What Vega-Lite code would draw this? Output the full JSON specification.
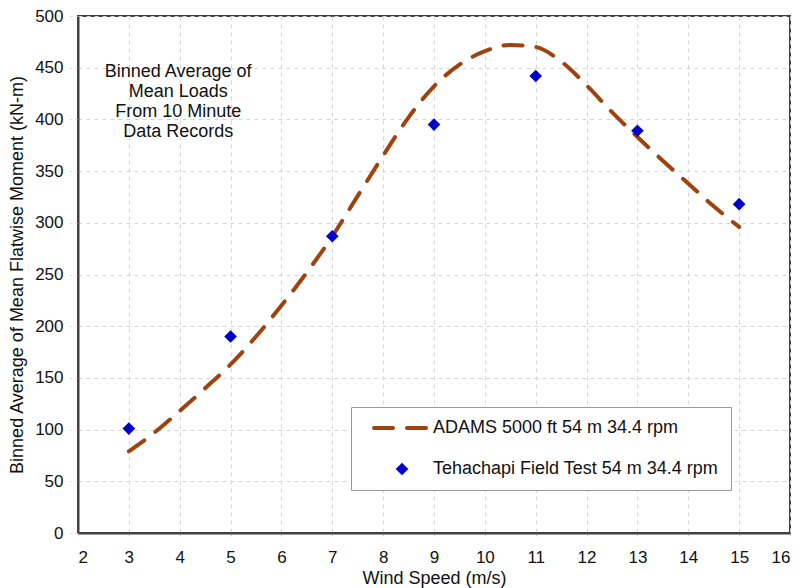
{
  "$schema": "https://vega.github.io/schema/vega-lite/v6.json",
  "width": 712,
  "height": 517,
  "autosize": {"type": "none"},
  "padding": {"left": 78, "top": 16, "right": 11, "bottom": 55},
  "background": "white",
  "config": {
    "font": "Liberation Sans",
    "view": {"stroke": "#404040", "strokeWidth": 2},
    "axis": {
      "grid": true,
      "gridColor": "#d4d4d4",
      "gridDash": [4, 4],
      "gridWidth": 1,
      "domainColor": "#404040",
      "domainWidth": 2,
      "tickColor": "#d4d4d4",
      "tickDash": [3, 3],
      "labelFont": "Liberation Sans",
      "labelFontSize": 17,
      "labelColor": "#111111",
      "titleFont": "Liberation Sans",
      "titleFontSize": 18,
      "titleFontWeight": "normal",
      "titleColor": "#111111"
    }
  },
  "datasets": {
    "curve": [
      {"speed": 3, "moment": 79, "series": "ADAMS 5000 ft 54 m 34.4 rpm"},
      {"speed": 3.5, "moment": 97, "series": "ADAMS 5000 ft 54 m 34.4 rpm"},
      {"speed": 4, "moment": 118, "series": "ADAMS 5000 ft 54 m 34.4 rpm"},
      {"speed": 4.5, "moment": 140, "series": "ADAMS 5000 ft 54 m 34.4 rpm"},
      {"speed": 5, "moment": 163, "series": "ADAMS 5000 ft 54 m 34.4 rpm"},
      {"speed": 5.5, "moment": 190, "series": "ADAMS 5000 ft 54 m 34.4 rpm"},
      {"speed": 6, "moment": 220, "series": "ADAMS 5000 ft 54 m 34.4 rpm"},
      {"speed": 6.5, "moment": 252, "series": "ADAMS 5000 ft 54 m 34.4 rpm"},
      {"speed": 7, "moment": 287, "series": "ADAMS 5000 ft 54 m 34.4 rpm"},
      {"speed": 7.5, "moment": 326, "series": "ADAMS 5000 ft 54 m 34.4 rpm"},
      {"speed": 8, "moment": 365, "series": "ADAMS 5000 ft 54 m 34.4 rpm"},
      {"speed": 8.5, "moment": 402, "series": "ADAMS 5000 ft 54 m 34.4 rpm"},
      {"speed": 9, "moment": 432, "series": "ADAMS 5000 ft 54 m 34.4 rpm"},
      {"speed": 9.5, "moment": 453, "series": "ADAMS 5000 ft 54 m 34.4 rpm"},
      {"speed": 10, "moment": 466, "series": "ADAMS 5000 ft 54 m 34.4 rpm"},
      {"speed": 10.5, "moment": 472, "series": "ADAMS 5000 ft 54 m 34.4 rpm"},
      {"speed": 11, "moment": 470, "series": "ADAMS 5000 ft 54 m 34.4 rpm"},
      {"speed": 11.5, "moment": 456, "series": "ADAMS 5000 ft 54 m 34.4 rpm"},
      {"speed": 12, "moment": 433, "series": "ADAMS 5000 ft 54 m 34.4 rpm"},
      {"speed": 12.5, "moment": 407, "series": "ADAMS 5000 ft 54 m 34.4 rpm"},
      {"speed": 13, "moment": 383, "series": "ADAMS 5000 ft 54 m 34.4 rpm"},
      {"speed": 13.5, "moment": 360, "series": "ADAMS 5000 ft 54 m 34.4 rpm"},
      {"speed": 14, "moment": 338, "series": "ADAMS 5000 ft 54 m 34.4 rpm"},
      {"speed": 14.5, "moment": 316, "series": "ADAMS 5000 ft 54 m 34.4 rpm"},
      {"speed": 15, "moment": 296, "series": "ADAMS 5000 ft 54 m 34.4 rpm"}
    ],
    "field": [
      {"speed": 3, "moment": 101, "series": "Tehachapi Field Test 54 m 34.4 rpm"},
      {"speed": 5, "moment": 190, "series": "Tehachapi Field Test 54 m 34.4 rpm"},
      {"speed": 7, "moment": 287, "series": "Tehachapi Field Test 54 m 34.4 rpm"},
      {"speed": 9, "moment": 395, "series": "Tehachapi Field Test 54 m 34.4 rpm"},
      {"speed": 11, "moment": 442, "series": "Tehachapi Field Test 54 m 34.4 rpm"},
      {"speed": 13, "moment": 389, "series": "Tehachapi Field Test 54 m 34.4 rpm"},
      {"speed": 15, "moment": 318, "series": "Tehachapi Field Test 54 m 34.4 rpm"}
    ],
    "note": [
      {"speed": 3.97, "moment": 446, "label": "Binned Average of|Mean Loads|From 10 Minute|Data Records"}
    ]
  },
  "encoding": {
    "x": {
      "field": "speed",
      "type": "quantitative",
      "scale": {"domain": [2, 16], "nice": false, "zero": false},
      "axis": {
        "title": "Wind Speed (m/s)",
        "values": [2, 3, 4, 5, 6, 7, 8, 9, 10, 11, 12, 13, 14, 15, 16],
        "tickSize": 6,
        "labelPadding": 10,
        "titleY": 45,
        "titleBaseline": "middle"
      }
    },
    "y": {
      "field": "moment",
      "type": "quantitative",
      "scale": {"domain": [0, 500], "nice": false},
      "axis": {
        "title": "Binned Average of Mean Flatwise Moment (kN-m)",
        "values": [0, 50, 100, 150, 200, 250, 300, 350, 400, 450, 500],
        "tickSize": 8,
        "labelPadding": 7,
        "titleX": -61,
        "titleBaseline": "middle"
      }
    }
  },
  "layer": [
    {
      "data": {"name": "curve"},
      "mark": {"type": "line", "interpolate": "monotone", "strokeDash": [19, 14], "strokeWidth": 4, "strokeCap": "round"},
      "encoding": {
        "color": {
          "field": "series",
          "type": "nominal",
          "scale": {
            "domain": ["ADAMS 5000 ft 54 m 34.4 rpm", "Tehachapi Field Test 54 m 34.4 rpm"],
            "range": ["#A0420E", "#0000CC"]
          },
          "legend": {
            "orient": "none",
            "legendX": 273,
            "legendY": 391,
            "title": null,
            "padding": 12,
            "symbolOffset": 30,
            "labelOffset": 22,
            "rowPadding": 23,
            "strokeColor": "#999999",
            "fillColor": "white",
            "labelFont": "Liberation Sans",
            "labelFontSize": 18,
            "labelColor": "#111111",
            "labelLimit": 400,
            "labelExpr": "datum.label + '\u00a0\u00a0\u00a0'",
            "encode": {
              "symbols": {
                "update": {
                  "shape": {"signal": "datum.value === 'ADAMS 5000 ft 54 m 34.4 rpm' ? 'M-2,0L2,0' : 'diamond'"},
                  "size": {"signal": "datum.value === 'ADAMS 5000 ft 54 m 34.4 rpm' ? 784 : 160"},
                  "fill": {"signal": "datum.value === 'ADAMS 5000 ft 54 m 34.4 rpm' ? 'transparent' : '#0000CC'"},
                  "stroke": {"signal": "datum.value === 'ADAMS 5000 ft 54 m 34.4 rpm' ? '#A0420E' : 'transparent'"},
                  "strokeWidth": {"signal": "datum.value === 'ADAMS 5000 ft 54 m 34.4 rpm' ? 4 : 0"},
                  "strokeDash": {"signal": "datum.value === 'ADAMS 5000 ft 54 m 34.4 rpm' ? [19, 14] : [1, 0]"},
                  "strokeCap": {"value": "round"},
                  "opacity": {"value": 1}
                }
              }
            }
          }
        }
      }
    },
    {
      "data": {"name": "field"},
      "mark": {"type": "point", "shape": "diamond", "filled": true, "size": 160, "opacity": 1},
      "encoding": {
        "color": {"field": "series", "type": "nominal"}
      }
    },
    {
      "data": {"name": "note"},
      "mark": {"type": "text", "lineBreak": "|", "lineHeight": 20, "fontSize": 18, "font": "Liberation Sans", "color": "#111111", "align": "center", "baseline": "middle"},
      "encoding": {
        "text": {"field": "label", "type": "nominal"}
      }
    }
  ]
}
